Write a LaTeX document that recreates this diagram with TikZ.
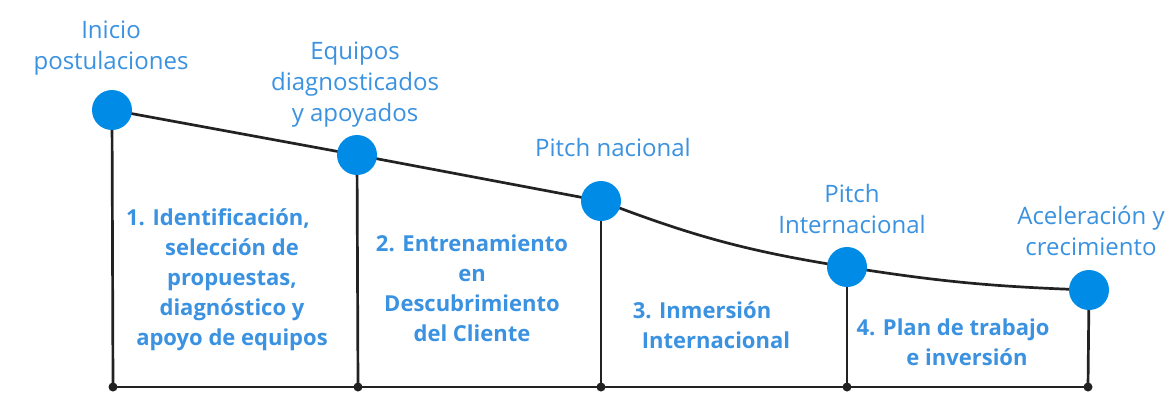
\documentclass[tikz,border=0pt]{standalone}
\usepackage{fontspec}
\setmainfont{Open Sans}
\definecolor{txtblue}{RGB}{58,146,224}
\definecolor{dotblue}{RGB}{0,140,230}
\definecolor{linegray}{RGB}{34,34,34}
\begin{document}
\begin{tikzpicture}[x=1pt,y=-1pt,
  milestone/.style={circle,fill=dotblue,minimum size=40pt,inner sep=0pt},
  foot/.style={circle,fill=linegray,minimum size=9pt,inner sep=0pt},
  conn/.style={draw=linegray,line width=2.7pt},
  toplabel/.style={anchor=north,align=center,text=txtblue,inner sep=0pt,font=\fontsize{24}{31}\selectfont},
  phase/.style={anchor=north,align=center,text=txtblue,inner sep=0pt,font=\fontsize{22}{30}\selectfont\bfseries}]
\useasboundingbox (0,0) rectangle (1169,392);
\fill[white] (0,0) rectangle (1169,392);
% bottom feet
\node[foot] (b1) at (113,387) {};
\node[foot] (b2) at (358,387) {};
\node[foot] (b3) at (601,387) {};
\node[foot] (b4) at (847,387) {};
\node[foot] (b5) at (1088,387) {};
% milestone positions
\coordinate (p1) at (112,110);
\coordinate (p2) at (357,155);
\coordinate (p3) at (601,201);
\coordinate (p4) at (847,267);
\coordinate (p5) at (1089,290);
% connectors
\draw[conn] (b1.center) -- (b5.center);
\draw[conn] (p1) -- (b1.center);
\draw[conn] (p2) -- (b2.center);
\draw[conn] (p3) -- (b3.center);
\draw[conn] (p4) -- (b4.center);
\draw[conn] (p5) -- (b5.center);
\draw[conn] (p1) -- (p2) -- (p3) to[out=-21,in=171] (p4) to[out=-9,in=178] (p5);
% milestones
\node[milestone] (m1) at (p1) {};
\node[milestone] (m2) at (p2) {};
\node[milestone] (m3) at (p3) {};
\node[milestone] (m4) at (p4) {};
\node[milestone] (m5) at (p5) {};
% top labels
\node[toplabel] (t1) at (111,21) {Inicio\\postulaciones};
\node[toplabel] (t2) at (355,42) {Equipos\\diagnosticados\\y apoyados};
\node[toplabel] (t3) at (613,138) {Pitch nacional};
\node[toplabel] (t4) at (852,184) {Pitch\\Internacional};
\node[toplabel] (t5) at (1091,206) {Aceleración y\\crecimiento};
% phase labels
\node[phase] (f1) at (232,208) {1. Identificación,\hspace*{28pt}\\selección de\\propuestas,\\diagnóstico y\\apoyo de equipos};
\node[phase] (f2) at (472,235) {2. Entrenamiento\\en\\Descubrimiento\\del Cliente};
\node[phase] (f3) at (716,301) {3. Inmersión\hspace*{28pt}\\Internacional};
\node[phase] (f4) at (967,319) {4. Plan de trabajo\hspace*{28pt}\\e inversión};
\end{tikzpicture}
\end{document}
